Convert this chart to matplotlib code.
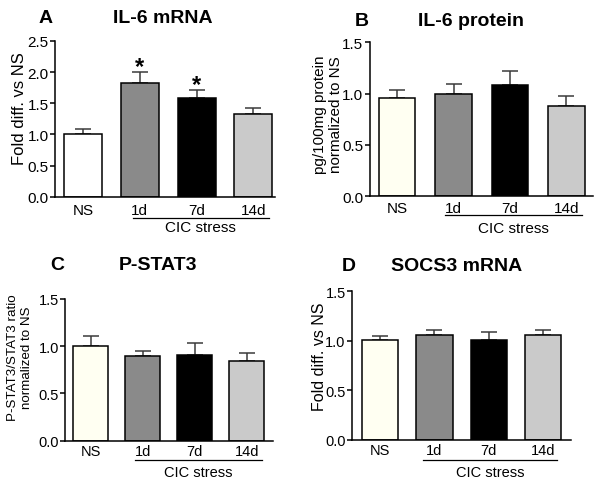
import matplotlib
matplotlib.use("Agg")
import matplotlib.pyplot as plt
import matplotlib.transforms as mtransforms

plt.rcParams['font.family'] = ['Liberation Sans', 'DejaVu Sans']

categories = ["NS", "1d", "7d", "14d"]
group_label = "CIC stress"

il6_mrna = [1.00, 1.83, 1.58, 1.32]
il6_mrna_err = [0.09, 0.17, 0.13, 0.10]
il6_mrna_sig = [False, True, True, False]

il6_protein = [0.955, 1.00, 1.08, 0.877]
il6_protein_err = [0.08, 0.09, 0.145, 0.10]

pstat3 = [1.00, 0.893, 0.905, 0.84]
pstat3_err = [0.105, 0.053, 0.125, 0.085]

socs3 = [1.005, 1.055, 1.01, 1.063]
socs3_err = [0.045, 0.053, 0.082, 0.048]

colors_A = ["#ffffff", "#8a8a8a", "#000000", "#cacaca"]
colors_other = ["#fffff2", "#8a8a8a", "#000000", "#cacaca"]

W, H = 600, 485
fig = plt.figure(figsize=(6.0, 4.85), dpi=100)


def make_ax(left, right, top, bottom):
    return fig.add_axes([left / W, (H - bottom) / H, (right - left) / W, (bottom - top) / H])


def panel(ax, hpx, vals, errs, colors, ymax, yticks, xlim, width, fs, pad,
          line_px, line_x, text_px, sig=None, star_off=0.0):
    x = list(range(len(vals)))
    ax.bar(x, vals, width=width, color=colors, edgecolor="black", linewidth=1.1, zorder=2)
    ax.errorbar(x, vals, yerr=[[0] * len(errs), errs], fmt="none", ecolor="#3a3a3a",
                elinewidth=1.1, capsize=5.5, capthick=1.1, zorder=1)
    ax.set_xlim(*xlim)
    ax.set_ylim(0, ymax)
    ax.set_yticks(yticks)
    ax.set_yticklabels([f"{t:.1f}" for t in yticks], fontsize=fs)
    ax.set_xticks(x)
    ax.set_xticklabels(categories, fontsize=fs)
    ax.tick_params(axis="x", length=0, pad=pad)
    ax.tick_params(axis="y", length=3.5, width=1.1, pad=1)
    for s in ["top", "right"]:
        ax.spines[s].set_visible(False)
    for s in ["left", "bottom"]:
        ax.spines[s].set_linewidth(1.1)
    trans = mtransforms.blended_transform_factory(ax.transData, ax.transAxes)
    ly = -line_px / hpx
    ax.plot(line_x, [ly, ly], color="black", linewidth=0.9, transform=trans, clip_on=False)
    ax.text(sum(line_x) / 2, -text_px / hpx, group_label, transform=trans,
            ha="center", va="baseline", fontsize=fs)
    if sig is not None:
        for i, s in enumerate(sig):
            if s:
                ax.text(i, vals[i] + errs[i] + star_off, "*", ha="center", va="center",
                        fontsize=17, fontweight="bold")


def ylab(x, y, s, fs):
    fig.text(x / W, (H - y) / H, s, rotation=90, ha="center", va="center",
             fontsize=fs, multialignment="center", linespacing=1.15)


# Panel A
axA = make_ax(55, 275, 42, 197.7)
panel(axA, 155.7, il6_mrna, il6_mrna_err, colors_A, 2.5, [0.0, 0.5, 1.0, 1.5, 2.0, 2.5],
      (-0.493, 3.38), 0.67, 11, 4.6, 21.3, (0.88, 3.27), 34.6,
      sig=il6_mrna_sig, star_off=0.085)
ylab(19.5, 109, "Fold diff. vs NS", 12)

# Panel B
axB = make_ax(369.5, 593, 43.3, 197.3)
panel(axB, 154.0, il6_protein, il6_protein_err, colors_other, 1.5, [0.0, 0.5, 1.0, 1.5],
      (-0.491, 3.47), 0.647, 11, 3.5, 18.7, (0.85, 3.28), 35.4)
ylab(328, 115, "pg/100mg protein\nnormalized to NS", 11)

# Panel C
axC = make_ax(65, 272.7, 300, 441.7)
panel(axC, 141.7, pstat3, pstat3_err, colors_other, 1.5, [0.0, 0.5, 1.0, 1.5],
      (-0.496, 3.50), 0.67, 10.5, 2.7, 19.3, (0.85, 3.29), 35.6)
ylab(20, 358, "P-STAT3/STAT3 ratio\nnormalized to NS", 9.6)

# Panel D
axD = make_ax(352, 570.7, 292.3, 440.7)
panel(axD, 148.4, socs3, socs3_err, colors_other, 1.5, [0.0, 0.5, 1.0, 1.5],
      (-0.515, 3.505), 0.67, 10.5, 2.7, 20.3, (0.79, 3.25), 36.6)
ylab(319, 357, "Fold diff. vs NS", 11.5)


def ftext(x, y, s):
    fig.text(x / W, (H - y) / H, s, ha="center", va="center", fontsize=14, fontweight="bold")


ftext(45.5, 18.5, "A")
ftext(162.5, 18.5, "IL-6 mRNA")
ftext(361.5, 21, "B")
ftext(471, 21, "IL-6 protein")
ftext(57.5, 265, "C")
ftext(158.5, 265, "P-STAT3")
ftext(349, 266.5, "D")
ftext(456.5, 266.5, "SOCS3 mRNA")

fig.savefig("out.png", dpi=100)
